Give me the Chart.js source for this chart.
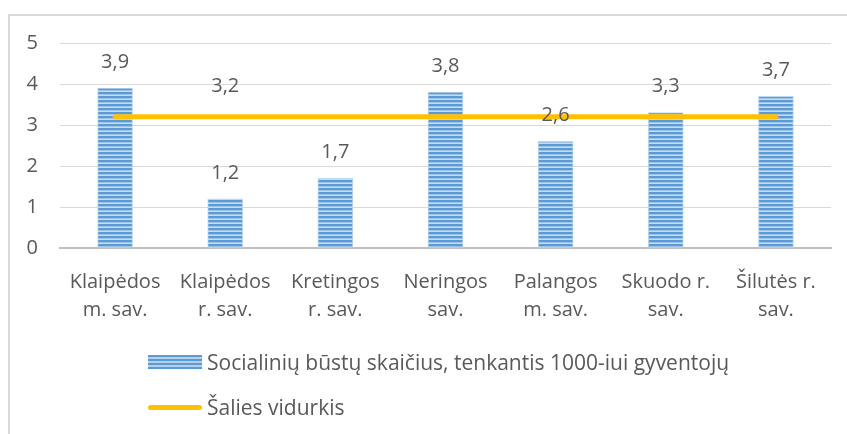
<!DOCTYPE html>
<html>
<head>
<meta charset="utf-8">
<script src="https://cdn.jsdelivr.net/npm/chart.js@4/dist/chart.umd.min.js"></script>
<style>
  html, body { margin: 0; padding: 0; background: #fff; overflow: hidden; }
  #wrap { position: relative; width: 847px; height: 434px; }
  #frame { position: absolute; left: 8px; top: 14px; width: 900px; height: 500px;
           border: 2px solid #d9d9d9; box-sizing: border-box; }
  canvas { position: absolute; left: 0; top: 0; }
  .legend { position: absolute; left: 148px; font-family: "Open Sans", sans-serif;
            font-size: 21px; color: #595959; display: flex; align-items: center; height: 28px; }
  .legend .sw { width: 54px; margin-right: 5px; }
  #lg1 { top: 348px; }
  #lg1 .sw { height: 14px;
    background: repeating-linear-gradient(to bottom, #5b9bd5 0px, #5b9bd5 2px, #b4d0ee 2px, #b4d0ee 4px); }
  #lg2 { top: 393px; }
  #lg2 .sw { height: 5px; border-radius: 3px; background: #ffc000; }
</style>
</head>
<body>
<div id="wrap">
  <div id="frame"></div>
  <canvas id="chart" width="847" height="434"></canvas>
  <div class="legend" id="lg1"><span class="sw"></span><span>Socialinių būstų skaičius, tenkantis 1000-iui gyventojų</span></div>
  <div class="legend" id="lg2"><span class="sw"></span><span>Šalies vidurkis</span></div>
</div>
<script>
// data
const categories = [
  ['Klaipėdos', 'm. sav.'],
  ['Klaipėdos', 'r. sav.'],
  ['Kretingos', 'r. sav.'],
  ['Neringos', 'sav.'],
  ['Palangos', 'm. sav.'],
  ['Skuodo r.', 'sav.'],
  ['Šilutės r.', 'sav.']
];
const housingValues = [3.9, 1.2, 1.7, 3.8, 2.6, 3.3, 3.7];
const countryAverage = [3.2, 3.2, 3.2, 3.2, 3.2, 3.2, 3.2];
const averageLabelIndex = 1; // Excel shows only one label on the average line
const yTicks = [0, 1, 2, 3, 4, 5];

const FONT = '"Open Sans", sans-serif';
const TEXT = '#595959';

// horizontal stripe fill for the bars
function stripePattern() {
  const c = document.createElement('canvas');
  c.width = 4; c.height = 4;
  const g = c.getContext('2d');
  g.fillStyle = '#5b9bd5'; g.fillRect(0, 0, 4, 2);
  g.fillStyle = '#9fc2e8'; g.fillRect(0, 2, 4, 1);
  g.fillStyle = '#c6dcf2'; g.fillRect(0, 3, 4, 1);
  return g.createPattern(c, 'repeat');
}

const fmt = v => v.toFixed(1).replace('.', ',');

// value labels above bars and one label on the line
const valueLabels = {
  id: 'valueLabels',
  afterDatasetsDraw(chart) {
    const ctx = chart.ctx;
    ctx.save();
    ctx.font = '20px ' + FONT;
    ctx.fillStyle = TEXT;
    ctx.textAlign = 'center';
    ctx.textBaseline = 'middle';
    chart.getDatasetMeta(1).data.forEach((el, i) => {
      ctx.fillText(fmt(housingValues[i]), el.x, el.y - 26);
    });
    const p = chart.getDatasetMeta(0).data[averageLabelIndex];
    ctx.fillText(fmt(countryAverage[averageLabelIndex]), p.x, p.y - 31);
    ctx.restore();
  }
};

new Chart(document.getElementById('chart'), {
  data: {
    labels: categories,
    datasets: [
      {
        type: 'line',
        label: 'Šalies vidurkis',
        data: countryAverage,
        borderColor: '#ffc000',
        borderWidth: 5,
        borderCapStyle: 'round',
        pointRadius: 0,
        order: 0
      },
      {
        type: 'bar',
        label: 'Socialinių būstų skaičius, tenkantis 1000-iui gyventojų',
        data: housingValues,
        backgroundColor: stripePattern(),
        borderColor: '#bdd7ee',
        borderWidth: 1,
        barThickness: 35,
        order: 1
      }
    ]
  },
  options: {
    responsive: false,
    animation: false,
    events: [],
    layout: { padding: { left: 10, right: 16, top: 43, bottom: 106 } },
    plugins: { legend: { display: false }, tooltip: { enabled: false } },
    scales: {
      x: {
        grid: { display: false, drawTicks: false },
        border: { color: '#bfbfbf', width: 2 },
        ticks: { color: TEXT, font: { family: FONT, size: 20, lineHeight: 1.4 }, padding: 20, maxRotation: 0, autoSkip: false },
        afterFit(s) { s.height = 80; }
      },
      y: {
        min: 0, max: 5,
        afterBuildTicks(s) { s.ticks = yTicks.map(v => ({ value: v })); },
        grid: { color: '#d9d9d9', lineWidth: 1, drawTicks: false },
        border: { display: false },
        ticks: { color: TEXT, font: { family: FONT, size: 20 }, padding: 22 },
        afterFit(s) { s.width = 50; }
      }
    }
  },
  plugins: [valueLabels]
});
</script>
</body>
</html>
